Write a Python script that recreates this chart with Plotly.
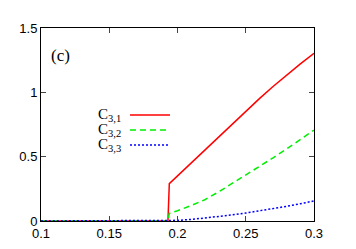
import plotly.graph_objects as go

x_vals = [0.10, 0.12, 0.14, 0.16, 0.18, 0.193, 0.194, 0.20, 0.21, 0.22, 0.23, 0.24, 0.25, 0.26, 0.27, 0.28, 0.29, 0.30]
c31 = [0, 0, 0, 0, 0, 0, 0.29, 0.35, 0.452, 0.554, 0.655, 0.755, 0.854, 0.951, 1.045, 1.135, 1.221, 1.303]
c32 = [0, 0, 0, 0, 0, 0, 0.06, 0.08, 0.12, 0.165, 0.225, 0.29, 0.355, 0.422, 0.491, 0.561, 0.633, 0.706]
c33 = [0, 0, 0, 0, 0, 0, 0.0, 0.005, 0.012, 0.022, 0.033, 0.047, 0.062, 0.078, 0.095, 0.114, 0.134, 0.156]

x_ticks = [0.1, 0.15, 0.2, 0.25, 0.3]
x_tick_labels = ["0.1", "0.15", "0.2", "0.25", "0.3"]
y_ticks = [0, 0.5, 1, 1.5]
y_tick_labels = ["0", "0.5", "1", "1.5"]

series = [
    ("C<sub>3,1</sub>", c31, "#ff0000", "solid"),
    ("C<sub>3,2</sub>", c32, "#00ee00", "6px,4px"),
    ("C<sub>3,3</sub>", c33, "#0000ff", "2px,2px"),
]

fig = go.Figure()
for name, ys, color, dash in series:
    fig.add_trace(go.Scatter(x=x_vals, y=ys, mode="lines", name=name,
                             line=dict(color=color, width=1.5, dash=dash),
                             showlegend=False))

# manual legend (text left, line sample right)
leg_y = [0.549, 0.4715, 0.394]
for (name, ys, color, dash), yy in zip(series, leg_y):
    fig.add_annotation(x=0.30, y=yy, xref="paper", yref="paper", text=name,
                       showarrow=False, xanchor="right", yanchor="middle",
                       font=dict(family="Liberation Serif", size=15, color="black"))
    fig.add_shape(type="line", xref="paper", yref="paper", x0=0.326, x1=0.4725,
                  y0=yy, y1=yy,
                  line=dict(color=color, width=1.5, dash=dash))

fig.add_annotation(x=0.073, y=0.86, xref="paper", yref="paper", text="(c)",
                   showarrow=False, xanchor="center", yanchor="middle",
                   font=dict(family="Liberation Serif", size=17, color="black"))

# page body has an 8px default margin; compensate so the plot frame
# lands at x 41..314, y 28..221 in the window
fig.update_layout(
    width=348, height=241,
    margin=dict(l=33, r=42, t=20, b=28, autoexpand=False),
    plot_bgcolor="white", paper_bgcolor="white",
    font=dict(family="Liberation Sans", size=13, color="black"),
)
fig.update_xaxes(range=[0.1, 0.3], tickvals=x_ticks, ticktext=x_tick_labels,
                 automargin=False,
                 showgrid=False, zeroline=False, showline=True, linecolor="black",
                 linewidth=1, mirror="allticks", ticks="inside", ticklen=5,
                 tickcolor="#444")
fig.update_yaxes(range=[0, 1.5], tickvals=y_ticks, ticktext=y_tick_labels,
                 automargin=False,
                 showgrid=False, zeroline=False, showline=True, linecolor="black",
                 linewidth=1, mirror="allticks", ticks="inside", ticklen=5,
                 tickcolor="#444")

fig.write_html("out.html")
